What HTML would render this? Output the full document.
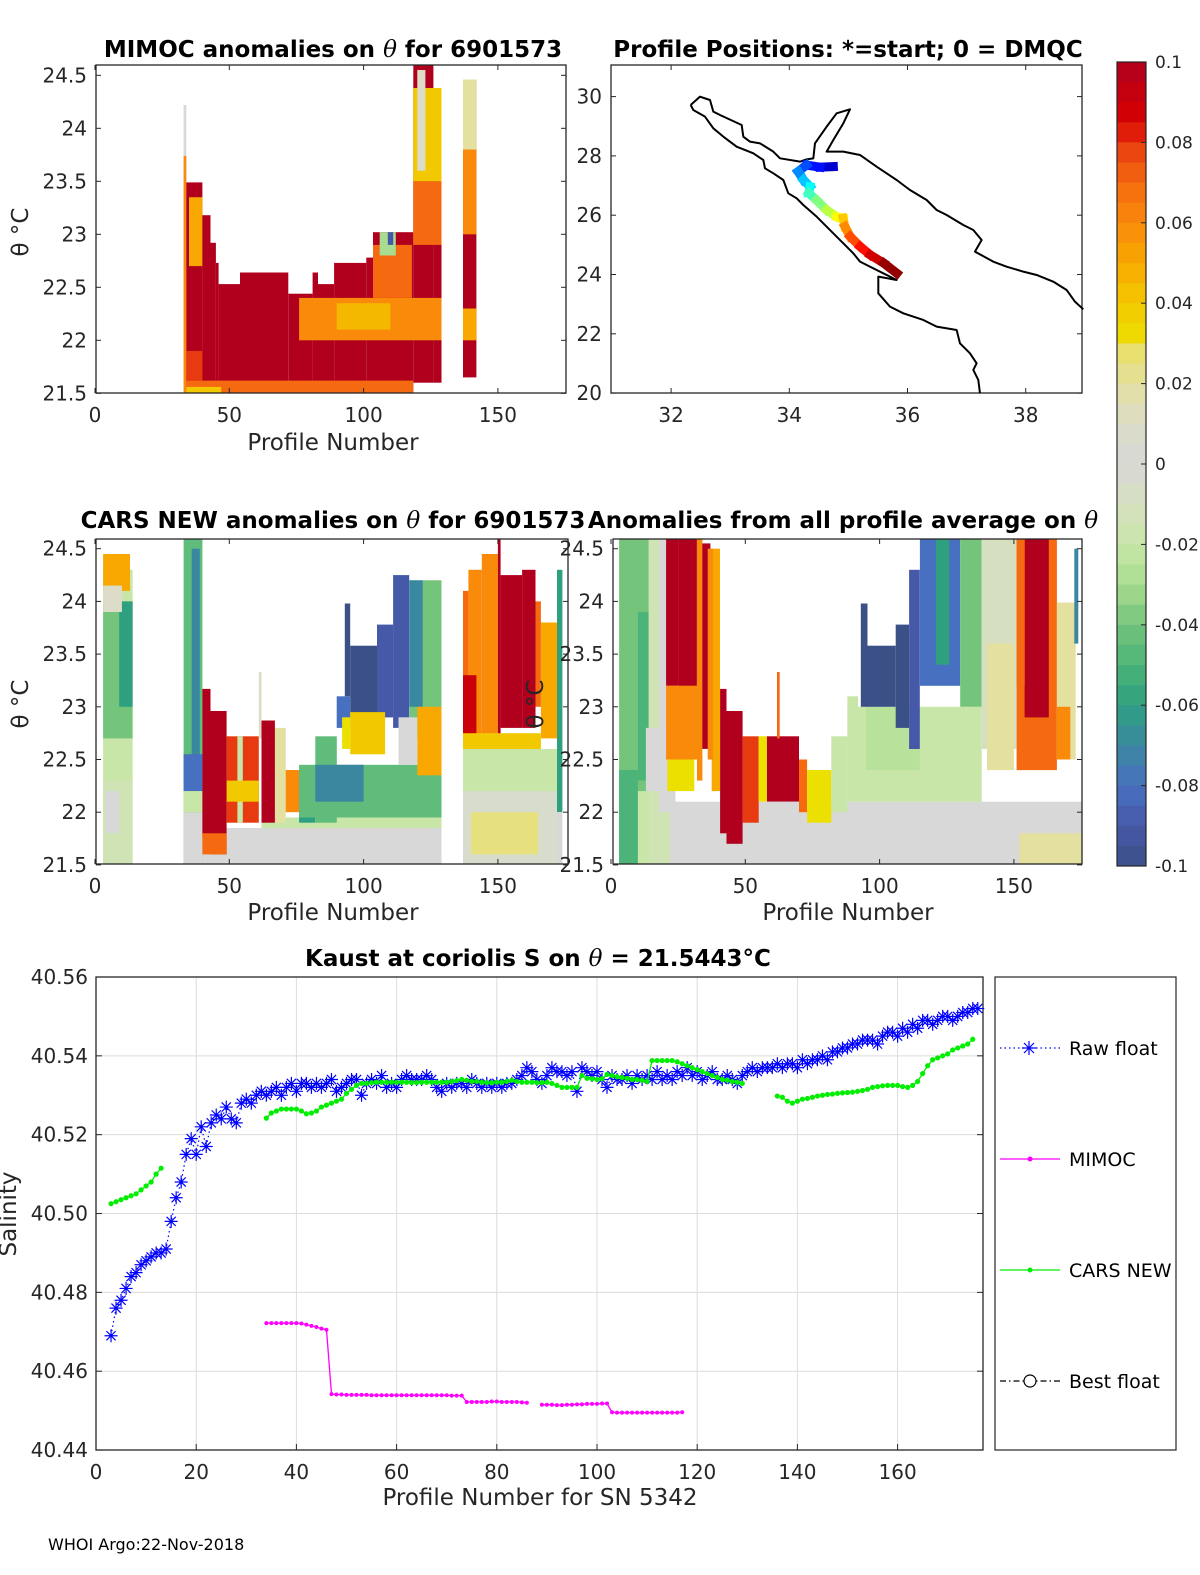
<!DOCTYPE html>
<html><head><meta charset="utf-8">
<style>
html,body{margin:0;padding:0;background:#fff;}
svg{display:block;font-family:"DejaVu Sans","Liberation Sans",sans-serif;}
.tk{font-size:20px;fill:#262626;}
.ttl{font-size:23px;font-weight:bold;fill:#000;}
.ttl tspan.th{font-style:italic;font-weight:normal;font-family:"DejaVu Serif",serif;}
.al{font-size:23px;fill:#262626;}
</style></head>
<body>
<svg id="fig" width="1200" height="1575" viewBox="0 0 1200 1575" xmlns="http://www.w3.org/2000/svg">
<rect width="1200" height="1575" fill="#fff"/>
<g id="p1"></g>
<g id="p2"></g>
<g id="p3"></g>
<g id="p4"></g>
<g id="cb"></g>
<g id="p5"></g>
<text x="48" y="1550" font-size="16" fill="#000">WHOI Argo:22-Nov-2018</text>
</svg>
<script>
// ---------- data ----------
const thetaTicks = [24.5, 24, 23.5, 23, 22.5, 22, 21.5];
const profileTicks = [0, 50, 100, 150];
const cbTicks = [0.1, 0.08, 0.06, 0.04, 0.02, 0, -0.02, -0.04, -0.06, -0.08, -0.1];
// blocks: [profileStart, profileEnd, thetaLow, thetaHigh, anomaly]
const mimocBlocks = [
[33,34,21.5,24.22,0],[33,34,21.5,23.74,0.06],[34,40,21.5,23.49,0.1],[35,40,22.7,23.35,0.05],
[40,43,21.5,23.18,0.1],[43,45,21.5,22.92,0.1],[45,46,21.5,22.73,0.1],[46,54,21.5,22.53,0.1],
[54,72,21.5,22.64,0.1],[72,81,21.5,22.44,0.1],[81,83,21.5,22.64,0.1],[83,89,21.5,22.53,0.1],
[89,101,21.5,22.73,0.1],[101,103.5,21.5,22.78,0.1],[103.5,118.5,21.5,23.02,0.1],
[118.5,126,21.6,24.6,0.1],[126,129,21.6,24.38,0.1],
[34,118.5,21.5,21.62,0.07],[34,47,21.5,21.56,0.04],[34,40,21.62,21.9,0.08],
[76,129,22.0,22.4,0.06],[90,110,22.1,22.35,0.045],[103.5,118,22.4,22.9,0.07],
[118.5,129,22.9,23.5,0.07],[118.5,129,23.5,24.38,0.04],[120,123,23.6,24.55,0.01],
[106,112,22.8,23.02,-0.03],[109,111,22.9,23.02,-0.09],
[137,142,21.65,24.46,0.1],[137,142,23.0,23.8,0.06],[137,142,23.8,24.46,0.02],[137,142,22.0,22.3,0.05]
];
const carsBlocks = [
[3,14,21.5,24.3,-0.02],[3,14,22.7,24.0,-0.04],[9,14,23.0,24.0,-0.06],[3,13,24.1,24.45,0.05],
[3,10,23.9,24.15,0.01],[3,14,21.5,22.3,-0.015],[4,9,21.8,22.2,0],
[33,40,21.5,24.6,-0.045],[36,39,22.4,24.5,-0.07],[33,40,22.2,22.55,-0.08],[33,40,21.5,22.0,0],[33,40,22.0,22.2,-0.02],
[40,129,21.5,21.85,0],[62,129,21.85,21.95,-0.02],
[40,43,21.75,23.17,0.1],[43,49,21.6,22.96,0.1],[40,49,21.6,21.8,0.07],
[49,61,21.9,22.72,0.08],[53,55,21.9,22.72,-0.02],[49,61,22.1,22.3,0.04],
[61,62,22.7,23.33,0.01],[62,67,21.9,22.87,0.1],[67,71,21.9,22.8,0.02],[71,76,22.0,22.4,0.06],
[76,82,21.9,22.4,-0.06],[82,90,21.9,22.72,-0.045],[90,95,22.8,23.1,-0.08],[93,95,23.1,23.98,-0.1],
[95,105,22.9,23.58,-0.1],[105,111,22.9,23.78,-0.09],[111,117,22.8,24.25,-0.09],
[117,129,22.7,24.2,-0.04],[117,122,23.0,24.2,-0.07],
[76,129,21.95,22.45,-0.045],[82,100,22.1,22.45,-0.07],
[95,108,22.55,22.95,0.04],[92,95,22.6,22.9,0.03],[120,129,22.35,23.0,0.05],[113,120,22.45,22.9,0],
[137,172,21.5,22.6,-0.005],[137,172,22.2,22.6,-0.02],[140,165,21.6,22.0,0.025],
[137,139,22.6,24.1,0.07],[139,144,22.6,24.3,0.06],[144,150,22.6,24.45,0.06],[150,151,22.6,24.6,0.1],
[151,159,22.8,24.25,0.1],[159,164,22.8,24.3,0.1],[164,166,23.0,24.0,0.07],[166,172,22.7,23.8,0.05],
[137,142,22.7,23.3,0.09],[137,166,22.6,22.75,0.04],[172,174,22.0,24.3,-0.06],[172,174,21.5,22.0,0]
];
const avgBlocks = [
[20,176,21.5,22.1,0],
[3,20,21.5,24.6,-0.04],[3,10,21.5,22.4,-0.05],[10,18,22.3,23.9,-0.05],[10,20,21.5,22.2,-0.02],
[14,22,21.5,24.6,-0.015],[18,24,22.0,24.6,0],[13,18,22.2,22.8,0],
[20.5,25,23.2,24.6,0.1],[25,32,23.0,24.6,0.1],[20.5,32,22.5,23.2,0.06],[21,31,22.2,22.5,0.03],
[32,34,22.3,24.6,0.06],[34,37,22.6,24.55,0.1],[37.5,40.6,22.2,24.5,0.05],[36,38,22.5,24.5,0.06],
[40.6,43,21.8,23.17,0.1],[43,49,21.7,22.96,0.1],
[49,55,21.9,22.72,0.08],[58,70,22.1,22.72,0.1],[55,58,22.1,22.72,0.03],[61.8,62.8,22.7,23.33,0.07],
[70,73,22.0,22.5,0.07],[73,82,21.9,22.4,0.03],[82,88,22.0,22.72,-0.02],[88,92,22.2,23.1,-0.02],
[88,138,22.1,23.0,-0.02],[95,115,22.4,23.0,-0.025],
[93,95.5,23.0,23.98,-0.1],[95,106,23.0,23.58,-0.1],[106,111,22.8,23.78,-0.1],[111,115,22.6,24.3,-0.09],
[115,130,23.2,24.6,-0.08],[121,126,23.4,24.6,-0.06],[130,138,23.0,24.6,-0.04],
[138,151,22.6,24.6,-0.01],[140,150,22.4,23.6,0.02],
[151,166,22.4,24.6,0.07],[154,163,22.9,24.6,0.1],[151,154,23.2,24.6,0.07],
[166,173,22.5,23.99,0.02],[166,171,22.5,23.0,0.06],[172.5,174,23.6,24.5,-0.07],
[152,176,21.5,21.8,0.02]
];
// salinity chart
const salXTicks = [0,20,40,60,80,100,120,140,160];
const salYTicks = [40.56,40.54,40.52,40.50,40.48,40.46,40.44];
const rawStart = 3;
const rawFloat = [40.469,40.476,40.478,40.481,40.484,40.485,40.487,40.488,40.489,40.490,
40.490,40.491,40.498,40.504,40.508,40.515,40.519,40.515,40.522,40.517,
40.523,40.525,40.524,40.527,40.524,40.523,40.528,40.529,40.528,40.530,
40.531,40.530,40.531,40.532,40.530,40.532,40.533,40.531,40.533,40.533,
40.532,40.533,40.532,40.533,40.534,40.531,40.532,40.533,40.534,40.534,
40.530,40.533,40.534,40.533,40.535,40.532,40.533,40.532,40.534,40.535,
40.534,40.534,40.534,40.535,40.534,40.532,40.531,40.533,40.532,40.533,
40.533,40.532,40.534,40.533,40.532,40.533,40.532,40.533,40.532,40.533,
40.533,40.534,40.535,40.537,40.536,40.534,40.533,40.535,40.537,40.536,
40.536,40.535,40.536,40.531,40.537,40.536,40.535,40.536,40.534,40.532,
40.535,40.534,40.534,40.535,40.533,40.535,40.534,40.535,40.534,40.536,
40.534,40.535,40.534,40.536,40.535,40.537,40.535,40.536,40.534,40.535,
40.536,40.534,40.534,40.535,40.534,40.533,40.535,40.536,40.537,40.536,
40.537,40.537,40.537,40.538,40.537,40.538,40.538,40.537,40.539,40.538,
40.539,40.539,40.540,40.539,40.541,40.541,40.542,40.542,40.543,40.543,
40.544,40.544,40.544,40.543,40.545,40.546,40.546,40.545,40.547,40.546,
40.548,40.547,40.549,40.549,40.548,40.549,40.550,40.550,40.549,40.550,
40.551,40.551,40.552,40.552];
const carsSeg1Start = 3;
const carsSeg1 = [40.5025,40.503,40.5035,40.504,40.5045,40.505,40.506,40.507,40.508,40.510,40.5115];
const carsSeg2Start = 34;
const carsSeg2 = [40.5242,40.5255,40.526,40.5265,40.5265,40.5265,40.5265,40.526,40.5253,40.5255,
40.526,40.527,40.5275,40.528,40.5285,40.529,40.5305,40.5315,40.5325,40.533,
40.533,40.5332,40.5333,40.5333,40.5333,40.5333,40.5333,40.5333,40.5333,40.5332,
40.5332,40.5333,40.5333,40.5333,40.5333,40.5333,40.5333,40.5335,40.5337,40.534,
40.5338,40.5335,40.5335,40.5333,40.5332,40.5332,40.5333,40.5333,40.5335,40.5338,
40.5335,40.5333,40.5333,40.5333,40.5332,40.5332,40.5333,40.533,40.5325,40.532,
40.532,40.532,40.532,40.535,40.5343,40.5342,40.534,40.5342,40.5353,40.535,
40.5347,40.5345,40.5343,40.534,40.534,40.5338,40.5335,40.5388,40.5388,40.5388,
40.5388,40.5388,40.5385,40.538,40.5375,40.537,40.5365,40.536,40.5355,40.535,
40.5345,40.534,40.5338,40.5335,40.5333,40.533];
const carsSeg3Start = 136;
const carsSeg3 = [40.5298,40.5295,40.5285,40.528,40.5285,40.529,40.5292,40.5295,40.5298,40.530,
40.5302,40.5303,40.5305,40.5306,40.5307,40.5308,40.531,40.5312,40.5315,40.532,
40.5322,40.5324,40.5325,40.5325,40.5325,40.5322,40.532,40.5325,40.5335,40.5355,
40.5375,40.539,40.5395,40.540,40.5405,40.5415,40.542,40.5425,40.543,40.5442];
const mimocSeg1Start = 34;
const mimocSeg1 = [40.4722,40.4722,40.4722,40.4722,40.4722,40.4722,40.4722,40.4721,40.4718,40.4715,40.4712,40.4708,40.4705,
40.4542,40.4541,40.4541,40.4540,40.4540,40.4540,40.4540,40.4540,40.4539,40.4539,40.4539,40.4539,40.4539,40.4539,
40.4539,40.4539,40.4539,40.4539,40.4539,40.4539,40.4539,40.4539,40.4539,40.4539,40.4538,40.4538,40.4538,
40.4522,40.4522,40.4522,40.4522,40.4522,40.4523,40.4523,40.4522,40.4522,40.4522,40.4522,40.4521,40.4520];
const mimocSeg2Start = 89;
const mimocSeg2 = [40.4515,40.4515,40.4515,40.4514,40.4514,40.4515,40.4515,40.4516,40.4516,40.4517,40.4517,40.4517,40.4518,40.4518,
40.4496,40.4495,40.4495,40.4495,40.4495,40.4495,40.4495,40.4495,40.4495,40.4495,40.4495,40.4495,40.4495,40.4495,40.4496];
// map track
const mapLatTicks = [30,28,26,24,22,20];
const mapLonTicks = [32,34,36,38];
const trackLon = [34.745,34.52,34.29,34.15,34.24,34.35,34.33,34.46,34.63,34.80,34.91,34.94,35.03,35.20,35.37,35.60,35.82];
const trackLat = [27.64,27.62,27.69,27.47,27.19,26.96,26.74,26.51,26.18,25.95,25.90,25.62,25.28,24.94,24.66,24.38,24.04];

// ---------- helpers ----------
const NS = 'http://www.w3.org/2000/svg';
function mk(parent, tag, attrs, text){
  const e = document.createElementNS(NS, tag);
  for (const k in attrs) e.setAttribute(k, attrs[k]);
  if (text !== undefined) e.textContent = text;
  parent.appendChild(e);
  return e;
}
function title(parent, x, y, before, after, name){
  const t = mk(parent,'text',{x:x,y:y,'text-anchor':'middle','class':'ttl'});
  
  
  mk(t,'tspan',{},before);
  mk(t,'tspan',{'class':'th'},'\u03b8');
  mk(t,'tspan',{},after);
  return t;
}
const stops = [
[-0.1,[60,80,136]],[-0.09,[70,88,168]],[-0.08,[72,112,192]],[-0.07,[58,136,160]],[-0.06,[46,160,128]],
[-0.05,[76,180,120]],[-0.04,[116,196,124]],[-0.03,[168,220,144]],[-0.02,[200,230,168]],[-0.01,[214,224,192]],
[0,[216,216,216]],[0.01,[220,220,200]],[0.02,[228,224,160]],[0.029,[232,224,100]],[0.03,[236,224,0]],
[0.04,[242,200,0]],[0.05,[248,168,0]],[0.06,[249,138,10]],[0.07,[245,106,16]],[0.08,[232,58,16]],
[0.085,[215,0,0]],[0.1,[176,0,30]]];
function cmap(v){
  v = Math.max(-0.1, Math.min(0.1, v));
  for (let i=0;i<stops.length-1;i++){
    const a=stops[i], b=stops[i+1];
    if (v>=a[0] && v<=b[0]){
      const t=(v-a[0])/(b[0]-a[0]||1);
      const c=a[1].map((x,j)=>Math.round(x+(b[1][j]-x)*t));
      return 'rgb('+c.join(',')+')';
    }
  }
  return 'rgb(176,0,30)';
}

function heatPanel(g, cfg, blocks, name){
  const X = p => cfg.x0 + p*cfg.kx;
  const Y = th => cfg.y245 + (24.5-th)*cfg.ky;
  const clip = 'clip-'+name;
  const cp = mk(g,'clipPath',{id:clip});
  mk(cp,'rect',{x:cfg.left,y:cfg.top,width:cfg.right-cfg.left,height:cfg.bottom-cfg.top});
  const hg = mk(g,'g',{'clip-path':'url(#'+clip+')'});
  
  
  blocks.forEach(b=>{
    const r = mk(hg,'rect',{x:X(b[0]).toFixed(1), y:Y(b[3]).toFixed(1),
      width:(X(b[1])-X(b[0])).toFixed(1), height:(Y(b[2])-Y(b[3])).toFixed(1), fill:cmap(b[4])});
    
    
  });
  const frame = mk(g,'rect',{x:cfg.left,y:cfg.top,width:cfg.right-cfg.left,height:cfg.bottom-cfg.top,fill:'none',stroke:'#262626','stroke-width':1.3});
  
  
  thetaTicks.forEach(t=>{
    const y = Y(t);
    mk(g,'line',{x1:cfg.left,x2:cfg.left+5,y1:y,y2:y,stroke:'#262626'});
    mk(g,'line',{x1:cfg.right,x2:cfg.right-5,y1:y,y2:y,stroke:'#262626'});
    const tl = mk(g,'text',{x:cfg.left-9,y:y+7,'text-anchor':'end','class':'tk'}, String(t));
    
    
  });
  profileTicks.forEach(p=>{
    const x = X(p);
    mk(g,'line',{x1:x,x2:x,y1:cfg.bottom,y2:cfg.bottom-5,stroke:'#262626'});
    mk(g,'line',{x1:x,x2:x,y1:cfg.top,y2:cfg.top+5,stroke:'#262626'});
    const tl = mk(g,'text',{x:x,y:cfg.bottom+29,'text-anchor':'middle','class':'tk'}, String(p));
    
    
  });
}

// ---------- panel 1 ----------
const g1 = document.getElementById('p1');
heatPanel(g1,{x0:95,kx:2.686,y245:75.3,ky:106,left:96,right:566,top:65,bottom:393}, mimocBlocks, 'mimoc');
title(g1, 333, 57, 'MIMOC anomalies on ', '  for 6901573', 'mimoc-title');
mk(g1,'text',{x:333,y:450,'text-anchor':'middle','class':'al',},'Profile Number');
mk(g1,'text',{x:0,y:0,transform:'translate(28,232) rotate(-90)','text-anchor':'middle','class':'al',},'\u03b8 \u00b0C');

// ---------- panel 3 ----------
const g3 = document.getElementById('p3');
heatPanel(g3,{x0:95,kx:2.686,y245:548.7,ky:105.4,left:96,right:568,top:539,bottom:864}, carsBlocks, 'cars');
title(g3, 333, 528, 'CARS NEW anomalies on ', ' for 6901573', 'cars-title');
mk(g3,'text',{x:333,y:920,'text-anchor':'middle','class':'al',},'Profile Number');
mk(g3,'text',{x:0,y:0,transform:'translate(28,704) rotate(-90)','text-anchor':'middle','class':'al',},'\u03b8 \u00b0C');

// ---------- panel 4 ----------
const g4 = document.getElementById('p4');
heatPanel(g4,{x0:611,kx:2.686,y245:548.7,ky:105.4,left:613,right:1082,top:539,bottom:864}, avgBlocks, 'avg');
title(g4, 843, 528, 'Anomalies from all profile average on ', '', 'average-title');
mk(g4,'text',{x:848,y:920,'text-anchor':'middle','class':'al',},'Profile Number');
mk(g4,'text',{x:0,y:0,transform:'translate(543,704) rotate(-90)','text-anchor':'middle','class':'al',},'\u03b8 \u00b0C');

// ---------- map panel ----------
const g2 = document.getElementById('p2');
const MX = lon => 789.3 + (lon-34)*59.1;
const MY = lat => 96.6 + (30-lat)*29.65;
mk(g2,'rect',{x:611,y:65,width:471,height:328,fill:'none',stroke:'#262626','stroke-width':1.3,});
mapLatTicks.forEach(l=>{
  const y = MY(l);
  mk(g2,'line',{x1:611,x2:616,y1:y,y2:y,stroke:'#262626'});
  mk(g2,'line',{x1:1082,x2:1077,y1:y,y2:y,stroke:'#262626'});
  const t = mk(g2,'text',{x:602,y:y+7,'text-anchor':'end','class':'tk'},String(l));
  
  
});
mapLonTicks.forEach(l=>{
  const x = MX(l);
  mk(g2,'line',{x1:x,x2:x,y1:393,y2:388,stroke:'#262626'});
  mk(g2,'line',{x1:x,x2:x,y1:65,y2:70,stroke:'#262626'});
  const t = mk(g2,'text',{x:x,y:422,'text-anchor':'middle','class':'tk'},String(l));
  
  
});
mk(g2,'text',{x:848,y:57,'text-anchor':'middle','class':'ttl',},'Profile Positions: *=start; 0 = DMQC');
const coast = mk(g2,'g',{transform:'translate(670,80) scale(0.3333)',fill:'none',stroke:'#000','stroke-width':6,'stroke-linejoin':'round'});


mk(coast,'polyline',{points:'62,75 90,50 120,60 130,95 150,105 215,135 220,170 240,185 270,190 310,215 330,235 390,245 410,238 430,235 435,190 470,140 500,100 540,88 520,130 490,180 470,215 520,215 570,225 620,260 680,300 720,330 770,360 800,390 830,405 880,435 910,450 935,480 915,515 970,545 1010,560 1060,575 1100,585 1150,605 1190,630 1215,665 1240,688'});
mk(coast,'polyline',{points:'62,75 70,90 105,110 130,145 160,170 200,200 250,220 280,240 285,265 310,280 340,300 355,340 380,355 400,375 440,410 470,440 500,470 520,490 550,520 570,545 620,570 640,580 680,600 625,590 625,640 660,680 700,700 760,720 800,740 860,750 870,790 900,820 920,850 910,870 925,900 930,940'});
const tr = mk(g2,'g',{'stroke-width':9,'stroke-linecap':'square'});


function jet(t){
  const r = Math.max(0,Math.min(1,1.5-Math.abs(4*t-3)));
  const g = Math.max(0,Math.min(1,1.5-Math.abs(4*t-2)));
  const b = Math.max(0,Math.min(1,1.5-Math.abs(4*t-1)));
  return 'rgb('+Math.round(r*255)+','+Math.round(g*255)+','+Math.round(b*255)+')';
}
for (let i=0;i<trackLon.length-1;i++){
  const s = mk(tr,'line',{x1:MX(trackLon[i]),y1:MY(trackLat[i]),x2:MX(trackLon[i+1]),y2:MY(trackLat[i+1]),stroke:jet(0.08+0.9*i/(trackLon.length-2))});
  
  
}

// ---------- colorbar ----------
const gc = document.getElementById('cb');
const CBY = v => 62 + (0.1-v)/0.2*804;
for (let k=0;k<40;k++){
  const v = 0.1 - (k+0.5)*0.005;
  const r = mk(gc,'rect',{x:1117,y:CBY(v+0.0025),width:29,height:804/40+0.5,fill:cmap(v)});
  
  
}
mk(gc,'rect',{x:1117,y:62,width:29,height:804,fill:'none',stroke:'#262626','stroke-width':1.2});
cbTicks.forEach(v=>{
  const y = CBY(v);
  mk(gc,'line',{x1:1141,x2:1146,y1:y,y2:y,stroke:'#262626'});
  const t = mk(gc,'text',{x:1155,y:y+6,'font-size':17,fill:'#262626'},String(v));
  
  
});

// ---------- salinity chart ----------
const g5 = document.getElementById('p5');
const SX = p => 96 + p*5.01;
const SY = s => 977 + (40.56-s)*3942;
const L=96, R=983, T=977, B=1450;
salXTicks.forEach(p=>{
  const x=SX(p);
  if (p>0) mk(g5,'line',{x1:x,x2:x,y1:T,y2:B,stroke:'#dcdcdc','stroke-width':1});
  mk(g5,'line',{x1:x,x2:x,y1:B,y2:B-6,stroke:'#262626'});
  const t = mk(g5,'text',{x:x,y:B+29,'text-anchor':'middle','class':'tk'},String(p));
  
  
});
salYTicks.forEach(s=>{
  const y=SY(s);
  mk(g5,'line',{x1:L,x2:R,y1:y,y2:y,stroke:'#dcdcdc','stroke-width':1});
  mk(g5,'line',{x1:L,x2:L+6,y1:y,y2:y,stroke:'#262626'});
  mk(g5,'line',{x1:R,x2:R-6,y1:y,y2:y,stroke:'#262626'});
  const t = mk(g5,'text',{x:L-8,y:y+7,'text-anchor':'end','class':'tk'},s.toFixed(2));
  
  
});
mk(g5,'rect',{x:L,y:T,width:R-L,height:B-T,fill:'none',stroke:'#262626','stroke-width':1.3,});
function pts(start, arr){ return arr.map((s,i)=>SX(start+i).toFixed(1)+','+SY(s).toFixed(1)).join(' '); }
function seriesLine(start, arr, color, name, dash, w){
  const pl = mk(g5,'polyline',{points:pts(start,arr),fill:'none',stroke:color,'stroke-width':w,'stroke-dasharray':dash});
  
  
}
function dots(start, arr, color, r, name){
  arr.forEach((s,i)=>{
    const c = mk(g5,'circle',{cx:SX(start+i),cy:SY(s),r:r,fill:color});
    
    
  });
}
seriesLine(mimocSeg1Start, mimocSeg1, '#ff00ff', 'mimoc-line', 'none', 1.3);
seriesLine(mimocSeg2Start, mimocSeg2, '#ff00ff', 'mimoc-line', 'none', 1.3);
dots(mimocSeg1Start, mimocSeg1, '#ff00ff', 2, 'mimoc-point');
dots(mimocSeg2Start, mimocSeg2, '#ff00ff', 2, 'mimoc-point');
seriesLine(rawStart, rawFloat, '#0000ff', 'raw-float-line', '1.5,3', 1.2);
rawFloat.forEach((s,i)=>{
  const x=SX(rawStart+i), y=SY(s), d=6.5, dd=4.6;
  const st = mk(g5,'path',{d:'M'+(x-d)+' '+y+'h'+(2*d)+'M'+x+' '+(y-d)+'v'+(2*d)+'M'+(x-dd)+' '+(y-dd)+'l'+(2*dd)+' '+(2*dd)+'M'+(x-dd)+' '+(y+dd)+'l'+(2*dd)+' '+(-2*dd),stroke:'#0000ff','stroke-width':1.2,fill:'none'});
  
  
});
[[carsSeg1Start,carsSeg1],[carsSeg2Start,carsSeg2],[carsSeg3Start,carsSeg3]].forEach(sg=>{
  seriesLine(sg[0], sg[1], '#00ee00', 'cars-line', 'none', 1.3);
  dots(sg[0], sg[1], '#00ee00', 2.6, 'cars-point');
});
title(g5, 538, 966, 'Kaust at coriolis S on ', ' = 21.5443\u00b0C', 'salinity-title');
mk(g5,'text',{x:540,y:1505,'text-anchor':'middle','class':'al',},'Profile Number for SN 5342');
mk(g5,'text',{x:0,y:0,transform:'translate(16,1214) rotate(-90)','text-anchor':'middle','class':'al',},'Salinity');
const lg = mk(g5,'g',{});


mk(lg,'rect',{x:995,y:977,width:181,height:473,fill:'#fff',stroke:'#262626','stroke-width':1.2});
const legY = [1048,1159,1270,1381];
const legLabels = ['Raw float','MIMOC','CARS NEW','Best float'];
const legColors = ['#0000ff','#ff00ff','#00ee00','#000'];
legLabels.forEach((lab,i)=>{
  const y=legY[i];
  const e = mk(lg,'g',{});
  
  
  const dash = i===0 ? '1.5,3' : (i===3 ? '6,3,1.5,3' : 'none');
  mk(e,'line',{x1:1000,x2:1060,y1:y,y2:y,stroke:legColors[i],'stroke-width':1.2,'stroke-dasharray':dash});
  if (i===0) mk(e,'path',{d:'M1022 '+y+'h14M1029 '+(y-7)+'v14M1024 '+(y-5)+'l10 10M1024 '+(y+5)+'l10 -10',stroke:'#0000ff','stroke-width':1.2});
  if (i===1||i===2) mk(e,'circle',{cx:1030,cy:y,r:2.5,fill:legColors[i]});
  if (i===3) mk(e,'circle',{cx:1030,cy:y,r:6,fill:'#fff',stroke:'#000','stroke-width':1.2});
  mk(e,'text',{x:1069,y:y+7,'font-size':19,fill:'#000'},lab);
});
</script>
</body></html>
